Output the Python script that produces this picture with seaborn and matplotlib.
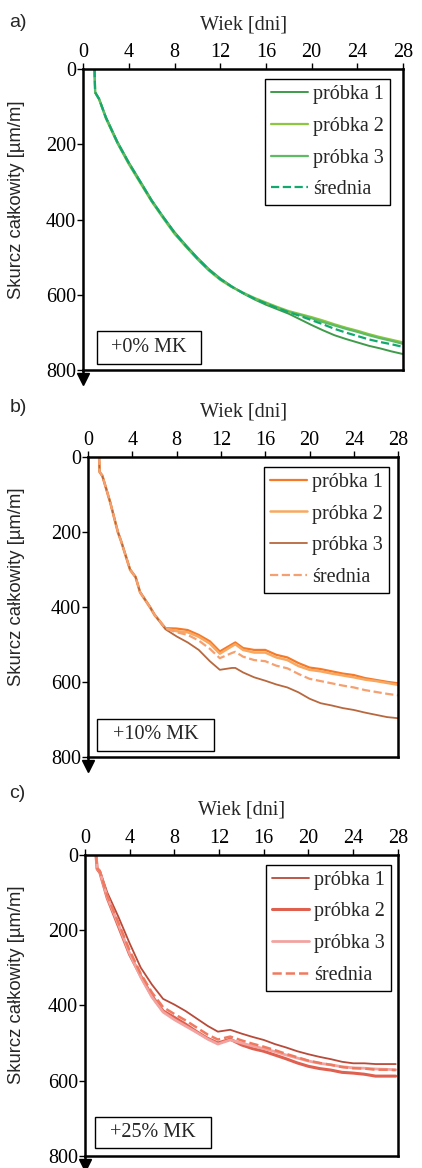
import matplotlib
matplotlib.use("Agg")
import matplotlib.pyplot as plt
from matplotlib.patches import Rectangle
import seaborn as sns
import pandas as pd

# ---- data (days, shrinkage um/m) ----
labels = ['próbka 1', 'próbka 2', 'próbka 3', 'średnia']
mk_labels = ['+0% MK', '+10% MK', '+25% MK']
panel_tags = ['a)', 'b)', 'c)']
xticks = [0, 4, 8, 12, 16, 20, 24, 28]
yticks = [0, 200, 400, 600, 800]

days_a = [1.0, 1.05, 1.4, 2, 3, 4, 5, 6, 7, 8, 9, 10, 11, 12, 13, 14, 15, 16, 17, 18, 19, 20, 21, 22, 23, 24, 25, 26, 27, 28]
p1_a = [0, 62, 80, 128, 193, 248, 298, 348, 392, 433, 468, 501, 531, 556, 577, 596, 612, 626, 638, 650, 665, 680, 694, 707, 717, 726, 735, 742, 750, 757]
p2_a = [0, 62, 81, 132, 197, 253, 303, 352, 396, 438, 472, 505, 535, 560, 579, 594, 608, 620, 632, 643, 651, 659, 668, 678, 687, 695, 704, 712, 719, 726]
p3_a = [0, 63, 80, 130, 196, 251, 300, 351, 394, 436, 471, 504, 534, 558, 578, 595, 610, 622, 634, 645, 653, 662, 672, 681, 690, 698, 707, 715, 722, 730]
mean_a = [0, 62, 80, 130, 195, 250, 300, 350, 393, 435, 470, 503, 533, 558, 578, 595, 610, 623, 635, 646, 656, 667, 678, 690, 700, 709, 718, 725, 731, 738]

days_b = [1.0, 1.05, 1.3, 2, 2.7, 3, 3.8, 4.3, 4.7, 5.6, 6, 7, 8, 9, 10, 11, 11.9, 13, 13.3, 14, 15, 16, 17, 18, 19, 20, 21, 22, 23, 24, 25, 26, 27, 28]
p1_b = [0, 40, 50, 120, 200, 225, 300, 320, 360, 400, 420, 457, 458, 462, 475, 492, 519, 500, 495, 510, 515, 515, 528, 535, 550, 562, 566, 572, 578, 582, 590, 595, 600, 604]
p2_b = [0, 40, 52, 122, 202, 227, 302, 322, 362, 402, 422, 458, 465, 468, 480, 498, 525, 505, 500, 515, 522, 522, 535, 542, 558, 568, 572, 578, 583, 588, 594, 598, 603, 608]
p3_b = [0, 42, 52, 121, 201, 226, 301, 321, 361, 401, 421, 460, 479, 495, 515, 545, 568, 563, 563, 575, 588, 597, 607, 615, 628, 645, 657, 663, 670, 675, 682, 688, 694, 697]
mean_b = [0, 41, 51, 121, 201, 226, 301, 321, 361, 401, 421, 458, 468, 475, 490, 512, 537, 523, 520, 533, 542, 545, 557, 564, 579, 592, 598, 604, 610, 615, 622, 627, 632, 636]

days_c = [1.0, 1.1, 1.35, 2, 3, 4, 5, 6, 7, 8, 9, 10, 11, 11.9, 13, 14, 15, 16, 17, 18, 19, 20, 21, 22, 23, 24, 25, 26, 27, 27.8]
p1_c = [0, 35, 42, 100, 165, 235, 300, 345, 383, 398, 415, 435, 455, 470, 465, 475, 484, 492, 503, 512, 522, 530, 537, 543, 550, 554, 554, 556, 556, 556]
p2_c = [0, 38, 48, 115, 190, 265, 322, 375, 415, 432, 450, 470, 488, 500, 490, 505, 515, 522, 532, 542, 553, 562, 568, 572, 578, 580, 583, 588, 588, 588]
p3_c = [0, 36, 46, 112, 185, 262, 325, 378, 418, 438, 455, 472, 490, 503, 492, 500, 508, 515, 523, 532, 540, 548, 554, 558, 563, 566, 567, 569, 570, 571]
mean_c = [0, 36, 45, 108, 180, 254, 316, 366, 405, 423, 440, 459, 478, 491, 483, 493, 502, 510, 519, 529, 538, 547, 553, 558, 564, 567, 568, 571, 571, 572]

colors_a = ['#3f9b4a', '#8dc63f', '#5dbb63', '#12a870']
colors_b = ['#f47a2a', '#f8a860', '#b8683e', '#f5a070']
colors_c = ['#b84a3a', '#e0604f', '#f2a3a0', '#f07a60']

panels = [
    (days_a, [p1_a, p2_a, p3_a, mean_a], colors_a, [1.4, 1.6, 1.6, 1.6]),
    (days_b, [p1_b, p2_b, p3_b, mean_b], colors_b, [1.6, 1.8, 1.3, 1.6]),
    (days_c, [p1_c, p2_c, p3_c, mean_c], colors_c, [1.3, 2.2, 2.0, 1.8]),
]

# axes rectangles [left, bottom, width, height] in figure fraction
rects = [
    [0.197, 0.683, 0.758, 0.258],
    [0.2085, 0.352, 0.735, 0.257],
    [0.201, 0.0103, 0.742, 0.258],
]
ylabel_x = [-0.181, -0.203, -0.192]
mk_boxes = [(0.044, 0.02, 0.325, 0.110), (0.029, 0.02, 0.377, 0.107), (0.032, 0.027, 0.372, 0.103)]
leg_anchor = [(0.959, 0.967), (0.971, 0.967), (0.978, 0.967)]
tag_y = [0.981, 0.651, 0.321]

sns.set_style('ticks')
plt.rcParams['font.family'] = ['Liberation Serif', 'DejaVu Serif']

fig = plt.figure(figsize=(4.22, 11.68), dpi=100)

for i, (days, series, cols, lws) in enumerate(panels):
    ax = fig.add_axes(rects[i])
    for j, vals in enumerate(series):
        df = pd.DataFrame({'dzien': days, 'skurcz': vals})
        sns.lineplot(data=df, x='dzien', y='skurcz', ax=ax, color=cols[j],
                     linewidth=lws[j], linestyle='--' if j == 3 else '-',
                     label=labels[j], sort=False, estimator=None)
    ax.set_xlim(0, 28)
    ax.set_ylim(800, 0)
    ax.xaxis.tick_top()
    ax.xaxis.set_label_position('top')
    ax.set_xticks(xticks)
    ax.set_yticks(yticks)
    ax.tick_params(labelsize=14.5, length=4, width=1, colors='black', pad=1)
    ax.set_xlabel('Wiek [dni]', fontsize=14.5, labelpad=10)
    ax.set_ylabel('Skurcz całkowity [µm/m]', fontsize=13.3,
                  family=['Liberation Sans', 'DejaVu Sans'])
    ax.yaxis.set_label_coords(ylabel_x[i], 0.567)
    for sp in ax.spines.values():
        sp.set_visible(True)
        sp.set_color('black')
        sp.set_linewidth(1.8)

    # arrow under the y axis
    ax.plot([0, 0], [0, -0.025], transform=ax.transAxes, color='black',
            lw=1.8, clip_on=False)
    ax.plot([0], [-0.03], transform=ax.transAxes, marker='v', color='black',
            markersize=8, clip_on=False)

    leg = ax.legend(loc='upper right', bbox_to_anchor=leg_anchor[i],
                    borderaxespad=0, fontsize=14.5, frameon=True,
                    fancybox=False, edgecolor='black', handlelength=1.85,
                    handletextpad=0.25, labelspacing=0.63, borderpad=0.3)
    leg.get_frame().set_linewidth(1.0)
    leg.get_frame().set_alpha(1)

    x0, y0, w, h = mk_boxes[i]
    ax.add_patch(Rectangle((x0, y0), w, h, transform=ax.transAxes,
                           facecolor='white', edgecolor='black', lw=1.0))
    ax.text(x0 + w / 2, y0 + h / 2, mk_labels[i], transform=ax.transAxes,
            ha='center', va='center', fontsize=14.5)

    fig.text(0.022, tag_y[i], panel_tags[i], fontsize=14,
             family=['Liberation Sans', 'DejaVu Sans'], va='center')

fig.savefig('out.png', dpi=100)
